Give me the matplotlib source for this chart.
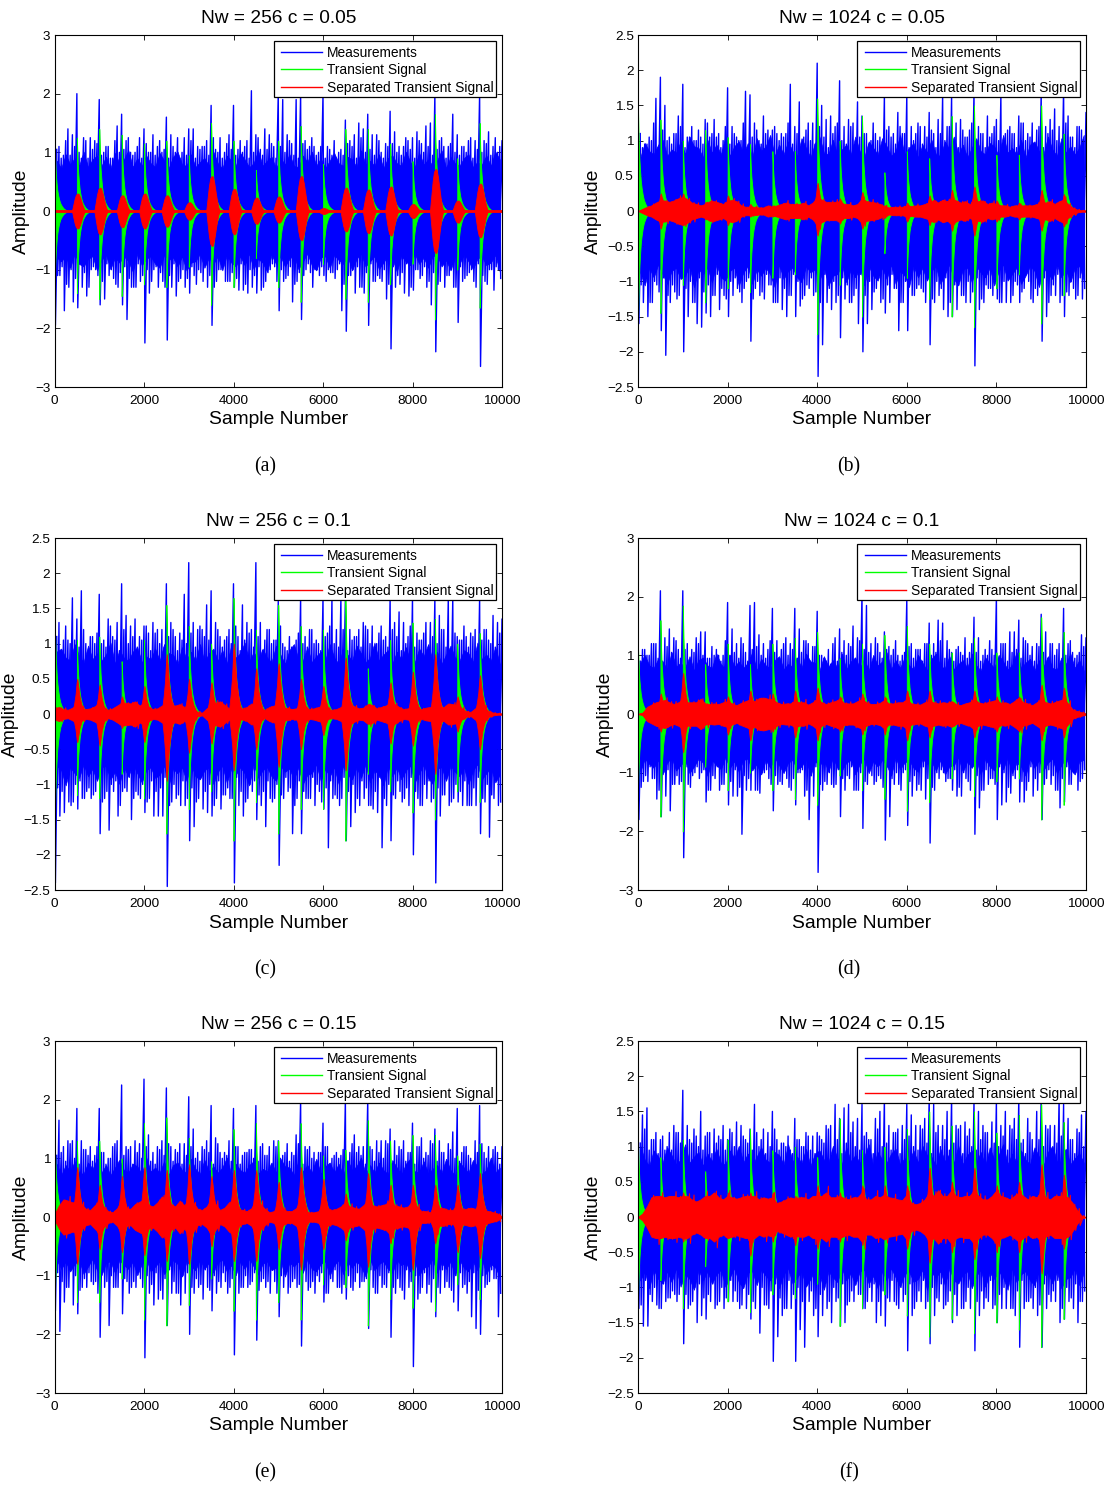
#!/usr/bin/python3
import matplotlib
matplotlib.use('Agg')
import matplotlib.pyplot as plt
from matplotlib.patches import Rectangle
import numpy as np

plt.rcParams['font.family'] = ['Liberation Sans', 'DejaVu Sans']

W, H = 1111, 1486

titles = ['Nw = 256 c = 0.05', 'Nw = 1024 c = 0.05', 'Nw = 256 c = 0.1',
          'Nw = 1024 c = 0.1', 'Nw = 256 c = 0.15', 'Nw = 1024 c = 0.15']
captions = ['(a)', '(b)', '(c)', '(d)', '(e)', '(f)']
legend_labels = ['Measurements', 'Transient Signal', 'Separated Transient Signal']
y_limits = [3, 2.5, 2.5, 3, 3, 2.5]
x_ticks = [0, 2000, 4000, 6000, 8000, 10000]

# measurement peaks, one value per 100 samples
a_hi = [2.0, 1.1, .95, 1.4, 1.3, 2.0, .9, 1.2, 1.25, 1.2,
        1.9, 1.0, 1.1, .9, 1.45, 1.65, 1.2, 1.0, 1.0, 1.25,
        1.4, 1.0, 1.3, 1.1, 1.0, 1.6, 1.3, 1.0, .9, 1.25,
        1.4, 1.4, 1.1, 1.1, 1.2, 1.8, 1.05, 1.25, 1.0, 1.3,
        1.8, 1.05, 1.0, 1.2, 2.05, 1.3, 1.05, 1.4, 1.3, 1.1,
        2.0, 1.9, 1.3, 1.15, 1.9, 2.0, 1.2, 1.1, 1.1, 1.0,
        2.0, 1.1, .95, .9, 1.05, 1.55, 1.2, 1.3, 1.5, 1.4,
        1.65, 1.3, 1.3, 1.0, 1.15, 1.7, 1.35, 1.1, 1.1, 1.2,
        1.25, 1.35, 1.15, 1.45, 1.5, 2.0, 1.2, 1.1, 1.1, 1.65,
        1.3, 1.1, 1.0, 1.25, 1.2, 2.0, 1.2, 1.35, 1.1, 1.0, 1.2]
a_lo = [-1.95, -1.1, -1.7, -1.3, -1.55, -1.65, -1.3, -1.45, -1.0, -1.0,
        -1.6, -1.5, -1.1, -1.15, -1.3, -1.6, -1.85, -1.3, -1.3, -1.2,
        -2.25, -1.4, -1.0, -1.3, -1.2, -2.2, -1.3, -1.45, -1.15, -1.3,
        -1.4, -1.1, -1.0, -1.2, -1.3, -1.95, -1.2, -1.0, -1.2, -1.2,
        -1.3, -1.35, -1.35, -1.4, -1.3, -1.4, -1.35, -1.2, -1.0, -.95,
        -1.7, -1.2, -1.1, -1.55, -1.2, -1.85, -1.0, -1.05, -1.0, -1.1,
        -1.1, -1.0, -1.05, -1.0, -1.7, -2.05, -1.1, -1.4, -1.3, -1.4,
        -1.95, -1.2, -1.1, -1.2, -1.5, -2.35, -1.3, -1.25, -1.4, -1.45,
        -1.35, -1.0, -1.1, -1.3, -1.6, -2.4, -1.2, -1.3, -1.1, -1.3,
        -1.9, -1.2, -1.1, -1.0, -1.3, -2.65, -1.2, -1.0, -1.35, -1.0, -1.0]
b_hi = [2.05, .9, .95, 1.0, 1.6, 1.9, 1.5, 1.05, 1.1, 1.35,
        1.8, 1.05, 1.2, 1.0, 1.05, 1.3, 1.05, 1.3, 1.1, 1.0,
        1.75, 1.2, 1.05, 1.0, 1.7, 1.65, 1.25, 1.0, 1.35, 1.15,
        1.15, 1.1, 1.1, 1.1, 1.8, 1.2, 1.55, 1.05, 1.25, 1.25,
        2.1, 1.5, 1.3, 1.35, 1.2, 1.85, 1.2, 1.3, 1.25, 1.55,
        1.35, 1.1, 1.0, 1.1, 1.05, 1.65, 1.2, 1.1, 1.4, 1.1,
        1.65, 1.2, 1.1, 1.2, 1.2, 1.4, 1.1, 1.3, 1.65, 1.2,
        1.65, 1.25, 1.3, 1.05, 1.15, 1.7, 1.2, 1.1, 1.35, 1.1,
        1.3, 1.65, 1.1, 1.2, 1.1, 1.35, 1.25, 1.1, 1.25, 1.15,
        1.7, 1.2, 1.3, 1.45, 1.2, 1.75, 1.35, 1.05, 1.2, 1.15, 1.4]
b_lo = [-1.6, -1.3, -1.5, -1.3, -1.05, -1.7, -2.05, -1.3, -1.15, -1.2,
        -2.0, -1.5, -1.3, -1.6, -1.65, -1.45, -1.5, -1.2, -1.4, -1.2,
        -1.5, -1.2, -1.1, -1.3, -1.0, -1.85, -1.1, -1.2, -1.25, -1.05,
        -1.3, -1.3, -1.4, -1.5, -1.2, -1.5, -1.35, -1.2, -1.1, -1.2,
        -2.35, -1.9, -1.3, -1.4, -1.3, -1.8, -1.25, -1.3, -1.2, -1.6,
        -2.0, -1.6, -1.4, -1.1, -1.3, -1.45, -1.3, -1.1, -1.7, -1.3,
        -1.7, -1.2, -1.1, -1.1, -1.3, -1.9, -1.3, -1.2, -1.4, -1.5,
        -1.5, -1.4, -1.2, -1.3, -1.3, -2.2, -1.4, -1.3, -1.1, -1.2,
        -1.25, -1.3, -1.3, -1.3, -1.0, -1.3, -1.1, -1.0, -1.3, -1.2,
        -1.85, -1.5, -1.2, -1.2, -1.3, -1.5, -1.2, -1.1, -1.2, -1.25, -1.0]
c_hi = [2.25, 1.3, 1.05, 1.05, 1.65, 1.35, 1.75, 1.0, 1.1, 1.0,
        1.7, 1.05, 1.35, 1.1, 1.3, 1.85, 1.4, 1.25, 1.35, 1.1,
        1.25, 1.15, 1.3, 1.2, 1.2, 1.85, 1.3, 1.1, 1.15, 1.7,
        2.15, 1.3, 1.2, 1.2, 1.55, 1.75, 1.3, 1.1, 1.05, 1.2,
        1.85, 1.1, 1.55, 1.3, 1.2, 2.15, 1.3, 1.05, 1.2, 1.05,
        1.6, 1.0, .9, .95, 1.05, 1.65, 1.1, 1.2, 1.0, 1.0,
        1.65, 1.15, 1.65, 1.2, 1.65, 1.65, 1.2, 1.1, 1.2, 1.3,
        1.2, 1.25, 1.0, 1.25, 1.1, 1.65, 1.3, 1.45, 1.3, 1.1,
        1.65, 1.15, 1.05, 1.3, 1.3, 1.65, 1.4, 1.2, 1.65, 1.65,
        1.1, 1.05, 1.1, 1.15, 1.2, 1.65, 1.2, 1.05, 1.4, 1.3, 1.35]
c_lo = [-2.4, -1.45, -1.4, -1.25, -1.25, -1.35, -1.2, -1.1, -1.2, -1.1,
        -1.7, -1.2, -1.65, -1.1, -1.45, -1.1, -1.1, -1.5, -1.1, -1.2,
        -1.4, -1.2, -1.45, -1.45, -1.45, -2.45, -1.25, -1.2, -1.3, -1.3,
        -1.8, -1.6, -1.2, -1.35, -1.4, -1.45, -1.2, -1.35, -1.15, -1.2,
        -2.4, -1.3, -1.45, -1.2, -1.1, -1.5, -1.3, -1.6, -1.2, -1.2,
        -2.15, -1.2, -1.1, -1.7, -1.2, -1.7, -1.2, -1.2, -1.3, -1.1,
        -1.35, -1.9, -1.2, -1.2, -1.2, -1.8, -1.6, -1.4, -1.3, -1.2,
        -1.3, -1.35, -1.4, -1.9, -1.3, -1.8, -1.2, -1.1, -1.2, -1.3,
        -2.0, -1.2, -1.3, -1.2, -1.25, -2.4, -1.45, -1.15, -1.3, -1.2,
        -1.25, -1.3, -1.3, -1.3, -1.3, -1.7, -1.25, -1.75, -1.2, -1.3, -1.55]
d_hi = [2.25, 1.1, 1.0, 1.2, 1.2, 2.1, 1.3, 1.45, 1.3, 1.1,
        2.1, 1.2, 1.1, 1.3, 1.4, 1.4, .95, 1.0, 1.0, 1.0,
        1.9, 1.45, 1.2, 1.3, 1.05, 1.85, 1.9, 1.35, 1.2, 1.1,
        1.8, 1.25, 1.1, 1.3, 1.2, 1.8, 1.45, 1.25, 1.2, 1.15,
        1.75, 1.0, .9, .85, 1.3, 1.45, 1.25, 1.2, 1.5, 1.3,
        2.05, 1.85, 1.2, 1.3, 1.05, 1.4, 1.15, 1.1, 1.0, 1.0,
        1.95, 1.2, 1.1, 1.1, 1.2, 1.55, 1.2, 1.6, 1.55, 1.25,
        1.05, 1.1, 1.05, 1.3, 1.05, 1.65, 1.3, 1.0, 1.0, 1.1,
        2.0, 1.2, 1.2, 1.4, 1.4, 1.6, 1.3, 1.2, 1.15, 1.2,
        1.7, 1.4, 1.2, 1.0, 1.2, 1.8, 1.2, 1.05, 1.0, 1.35, 1.3]
d_lo = [-1.8, -1.15, -1.15, -1.1, -1.45, -1.75, -1.4, -1.65, -1.2, -1.2,
        -2.45, -1.2, -1.05, -.9, -1.0, -1.5, -1.3, -1.1, -1.3, -1.2,
        -1.55, -1.4, -1.4, -2.05, -1.3, -1.3, -1.3, -1.35, -1.0, -1.1,
        -1.65, -1.2, -1.2, -1.1, -1.3, -1.55, -1.0, -1.4, -1.8, -1.4,
        -2.7, -1.3, -1.2, -1.2, -1.2, -1.75, -1.3, -1.1, -1.3, -1.3,
        -1.95, -1.2, -1.05, -1.15, -1.1, -2.15, -1.75, -1.2, -1.2, -1.0,
        -1.9, -1.4, -1.3, -1.3, -1.45, -2.2, -1.3, -1.1, -1.0, -1.1,
        -1.3, -1.4, -1.4, -1.1, -1.3, -2.05, -1.6, -1.3, -1.2, -1.1,
        -1.8, -1.55, -1.5, -1.35, -1.1, -1.5, -1.5, -1.15, -1.4, -1.3,
        -1.8, -1.1, -1.2, -1.3, -1.6, -1.5, -1.2, -1.0, -1.3, -1.1, -1.1]
e_hi = [1.5, 1.65, 1.2, 1.3, 1.3, 1.85, 1.3, 1.15, 1.2, 1.05,
        1.85, 1.1, 1.0, 1.2, 1.3, 2.25, 1.2, 1.2, 1.3, 1.25,
        2.35, 1.4, 1.1, 1.2, 1.3, 2.2, 1.2, 1.15, 1.25, 1.25,
        2.05, 1.5, 1.1, 1.2, 1.3, 1.9, 1.35, 1.1, 1.1, 1.3,
        1.85, 1.2, 1.05, 1.1, 1.15, 1.9, 1.2, 1.05, 1.2, 1.3,
        1.3, 1.05, 1.25, 1.1, 1.4, 2.0, 1.2, 1.2, 1.1, 1.1,
        1.6, 1.2, 1.0, 1.1, 1.05, 2.0, 1.1, 1.4, 1.2, 1.2,
        2.0, 1.15, 1.3, 1.3, 1.3, 1.5, 1.3, 1.2, 1.3, 1.1,
        1.6, 1.2, 1.35, 1.1, 1.3, 1.5, 1.3, 1.1, 1.25, 1.45,
        1.85, 1.1, 1.2, 1.0, 1.3, 1.9, 1.1, 1.2, 1.15, 1.1, 1.2]
e_lo = [-1.6, -1.95, -1.45, -1.2, -1.5, -1.65, -1.2, -1.2, -1.1, -1.1,
        -2.05, -1.2, -1.85, -1.2, -1.2, -1.65, -1.1, -1.2, -1.2, -1.05,
        -2.4, -1.3, -1.5, -1.4, -1.4, -1.85, -1.3, -1.3, -1.5, -1.3,
        -2.0, -1.3, -1.2, -1.4, -1.2, -1.6, -1.3, -1.2, -1.1, -1.2,
        -2.35, -1.3, -1.2, -1.2, -1.1, -2.1, -1.1, -1.2, -1.3, -1.1,
        -1.7, -1.2, -1.3, -1.1, -1.2, -2.2, -1.1, -1.2, -1.3, -1.1,
        -1.45, -1.3, -1.1, -1.2, -1.3, -1.4, -1.2, -1.1, -1.2, -1.1,
        -1.9, -1.2, -1.3, -1.2, -1.2, -2.05, -1.3, -1.2, -1.4, -1.2,
        -2.55, -1.4, -1.2, -1.3, -1.45, -1.7, -1.3, -1.2, -1.2, -1.45,
        -1.6, -1.2, -1.3, -1.7, -1.9, -2.0, -1.2, -1.1, -1.05, -1.7, -1.1]
f_hi = [1.6, 1.45, 1.55, 1.1, 1.2, 1.1, .95, 1.2, 1.3, 1.2,
        1.8, 1.3, 1.05, 1.15, 1.5, 1.15, 1.2, 1.25, 1.15, 1.3,
        1.1, 1.2, 1.35, 1.3, 1.1, 1.25, 1.6, 1.0, 1.25, 1.2,
        1.5, 1.1, 1.05, 1.0, .95, 1.4, 1.1, 1.0, 1.15, 1.15,
        1.2, 1.1, 1.3, 1.3, 1.6, 1.4, 1.55, 1.6, 1.35, 1.4,
        1.6, 1.2, 1.1, 1.4, 1.5, 1.7, 1.3, 1.2, 1.25, 1.3,
        1.6, 1.45, 1.3, 1.3, 1.4, 1.7, 1.6, 1.3, 1.3, 1.5,
        1.7, 1.3, 1.3, 1.35, 1.25, 1.65, 1.5, 1.3, 1.2, 1.35,
        1.65, 1.3, 1.5, 1.3, 1.4, 1.7, 1.1, 1.4, 1.1, 1.5,
        1.75, 1.3, 1.3, 1.3, 1.7, 1.6, 1.4, 1.1, 1.25, 1.45, 1.5]
f_lo = [-1.3, -1.55, -1.55, -1.2, -1.25, -1.3, -1.2, -1.15, -1.1, -1.1,
        -1.8, -1.3, -1.2, -1.5, -1.4, -1.45, -1.2, -1.3, -1.2, -1.3,
        -1.2, -1.2, -1.2, -1.25, -1.3, -1.45, -1.3, -1.65, -1.25, -1.3,
        -2.05, -1.7, -1.4, -1.3, -1.3, -2.05, -1.6, -1.85, -1.2, -1.4,
        -1.7, -1.4, -1.3, -1.5, -1.2, -1.55, -1.5, -1.2, -1.2, -1.1,
        -1.3, -1.2, -1.2, -1.5, -1.4, -1.55, -1.2, -1.2, -1.3, -1.2,
        -1.9, -1.4, -1.2, -1.2, -1.3, -1.8, -1.4, -1.2, -1.3, -1.2,
        -1.5, -1.4, -1.3, -1.2, -1.3, -1.9, -1.4, -1.3, -1.2, -1.3,
        -1.5, -1.3, -1.3, -1.3, -1.4, -1.85, -1.3, -1.2, -1.3, -1.4,
        -1.85, -1.3, -1.2, -1.2, -1.5, -1.45, -1.2, -1.3, -1.5, -1.2, -1.0]

# lesser peaks between the main ones, typical levels read from the band edge
second_up = [1.05, .9, 1.2, .95, 1.1, 1.0, 1.25, .9, 1.05, 1.15,
             .95, 1.1, .9, 1.2, 1.0, 1.05, 1.25, .95, 1.1, .9,
             1.15, 1.0, .95, 1.2, 1.05, .9, 1.1, 1.25, 1.0, .95,
             1.2, .9, 1.05, 1.1, .95, 1.25, 1.0, .9, 1.15, 1.05,
             .95, 1.2, 1.1, .9, 1.0, 1.25, .95, 1.05, 1.15, .9,
             1.1, 1.0, 1.2, .95, .9, 1.15, 1.05, 1.25, .95, 1.1,
             .9, 1.05, 1.2, 1.0, .95, 1.15, 1.1, .9, 1.25, 1.0,
             1.05, .95, 1.2, .9, 1.1, 1.15, 1.0, .95, 1.25, 1.05,
             .9, 1.2, 1.0, 1.1, .95, 1.05, 1.25, .9, 1.15, 1.0,
             .95, 1.1, 1.2, .9, 1.05, 1.0, 1.15, .95, 1.25, 1.1]
second_dn = [1.1, .95, 1.25, 1.0, 1.15, .9, 1.05, 1.3, .95, 1.1,
             1.2, .9, 1.0, 1.25, 1.05, .95, 1.15, 1.3, .9, 1.1,
             1.0, 1.2, .95, 1.05, 1.3, 1.1, .9, 1.2, 1.0, 1.15,
             .95, 1.25, 1.05, .9, 1.1, 1.3, 1.0, .95, 1.2, 1.05,
             1.15, .9, 1.25, 1.0, 1.1, .95, 1.3, 1.05, .9, 1.2,
             1.0, 1.15, .95, 1.25, 1.05, 1.1, .9, 1.3, 1.0, .95,
             1.2, 1.05, 1.15, .9, 1.25, 1.1, 1.0, .95, 1.3, 1.05,
             .9, 1.2, 1.15, 1.0, 1.25, .95, 1.1, 1.05, .9, 1.3,
             1.0, 1.15, .95, 1.2, 1.05, 1.25, .9, 1.1, 1.0, 1.3,
             .95, 1.15, 1.05, 1.2, .9, 1.1, 1.25, 1.0, .95, 1.15]
# edge of the solid part of the band
core_up = [.78, .66, .88, .72, .82, .7, .92, .68, .8, .86,
           .7, .84, .66, .9, .74, .8, .94, .68, .82, .7,
           .86, .74, .68, .9, .78, .66, .84, .92, .72, .7,
           .88, .68, .76, .82, .7, .92, .74, .66, .86, .78,
           .7, .9, .8, .68, .74, .94, .7, .78, .84, .66,
           .82, .72, .88, .7, .68, .86, .76, .92, .7, .82,
           .66, .78, .9, .74, .7, .84, .8, .68, .94, .72,
           .78, .7, .88, .66, .82, .86, .74, .7, .92, .76,
           .68, .9, .72, .8, .7, .78, .94, .66, .84, .74,
           .7, .82, .88, .68, .76, .72, .86, .7, .92, .8]
core_scale = [1.1, 1.15, 1.08, 1.12, 1.08, 1.1]

# one transient every 500 samples
impulse_x = [0, 500, 1000, 1500, 2000, 2500, 3000, 3500, 4000, 4500,
             5000, 5500, 6000, 6500, 7000, 7500, 8000, 8500, 9000, 9500]
green_up = [
    [1.2, 1.25, 1.4, 1.3, 1.15, 1.2, .95, 1.5, 1.2, .7, 1.2, 1.45, .8, 1.4, 1.4, 1.15, .85, 1.65, .9, 1.5],
    [1.45, 1.3, 1.0, 1.15, 1.05, .95, .85, .85, 1.6, 1.0, 1.35, .55, .85, .75, 1.35, 1.5, .8, .8, 1.5, 1.1],
    [1.5, 1.05, 1.1, .75, 1.05, 1.55, 1.25, 1.0, 1.65, 1.2, 1.55, 1.25, 1.2, 1.65, .65, 1.05, 1.3, 1.35, 1.0, 1.15],
    [1.15, 1.6, 1.85, .85, 1.2, .85, 1.2, 1.3, 1.4, .95, 1.2, 1.35, 1.5, 1.2, 1.05, 1.3, 1.05, 1.05, 1.65, 1.4],
    [1.45, 1.3, 1.3, 1.0, 1.6, 1.7, 1.35, .95, 1.5, 1.6, 1.3, 1.6, 1.05, 1.15, 1.65, 1.3, 1.4, 1.4, 1.05, 1.25],
    [1.05, .85, 1.1, .65, 1.1, 1.25, .95, 1.0, .85, 1.4, .95, 1.0, 1.25, 1.5, 1.3, 1.5, 1.2, 1.45, 1.6, 1.35]]
green_dn = [
    [1.3, 1.4, 1.5, 1.45, 1.25, 1.3, .95, 1.6, 1.3, .8, 1.3, 1.55, .9, 1.5, 1.55, 1.25, .9, 1.85, 1.0, 1.65],
    [1.55, 1.45, 1.05, 1.3, 1.1, 1.15, .95, .9, 1.75, 1.05, 1.5, .6, .95, 1.25, 1.5, 1.65, 1.1, .9, 1.6, 1.2],
    [1.7, 1.15, 1.2, .85, 1.2, 1.7, 1.35, 1.1, 1.8, 1.25, 1.7, 1.35, 1.35, 1.8, .85, 1.1, 1.4, 1.5, 1.1, 1.25],
    [1.25, 1.75, 2.0, .9, 1.3, 1.0, 1.3, 1.45, 1.55, 1.05, 1.3, 1.45, 1.65, 1.5, 1.1, 1.4, 1.15, 1.1, 1.8, 1.55],
    [1.6, 1.45, 1.45, 1.05, 1.75, 1.85, 1.5, 1.05, 1.6, 1.75, 1.45, 1.75, 1.15, 1.2, 1.85, 1.4, 1.55, 1.6, 1.15, 1.4],
    [1.15, .9, 1.3, .7, 1.2, 1.35, 1.1, 1.15, .95, 1.55, 1.3, 1.1, 1.4, 1.7, 1.45, 1.65, 1.5, 1.6, 1.85, 1.45]]
green_offsets = [0, 8, 16, 30, 46, 62, 80, 105, 130, 165, 200, 240, 290]
green_shape = [1.0, .85, .7, .52, .4, .3, .23, .16, .11, .07, .04, .02, 0]

red_up = [
    [0, .3, .4, .27, .3, .27, .15, .6, .38, .23, .25, .6, .05, .4, .37, .42, .12, .72, .18, .47],
    [0, .25, .25, .13, .22, .1, .08, .1, .4, .18, .27, .08, .12, .22, .3, .35, .15, .12, .3, .24],
    [0, .5, .42, .25, .4, .85, .5, .45, 1.0, .65, .72, .5, .4, .8, .1, .45, .6, .85, .25, .55],
    [0, .35, .7, .15, .3, .4, .35, .4, .45, .3, .35, .3, .4, .4, .2, .4, .3, .3, .5, .45],
    [.1, .85, .55, .7, .85, .8, .9, .7, .8, .8, .6, .85, .65, .4, .75, .55, .55, .55, .55, .75],
    [0, .3, .35, .25, .35, .35, .35, .3, .45, .35, .45, .45, .45, .7, .5, .7, .45, .5, .75, .6]]
red_dn = [
    [0, .3, .4, .28, .3, .27, .15, .6, .4, .22, .2, .5, .05, .35, .38, .42, .12, .72, .2, .45],
    [0, .25, .2, .12, .2, .08, .08, .1, .35, .18, .25, .1, .15, .2, .28, .35, .15, .12, .28, .22],
    [0, .4, .45, .2, .4, .95, .55, .42, .8, .5, .75, .5, .3, .8, .1, .42, .45, .85, .25, .5],
    [0, .3, .65, .15, .35, .45, .3, .4, .45, .3, .35, .35, .45, .4, .2, .4, .3, .3, .45, .4],
    [.1, .8, .55, .6, .65, .75, .8, .5, .75, .75, .55, .9, .55, .4, .85, .45, .9, .45, .6, .7],
    [0, .3, .35, .25, .3, .55, .35, .4, .45, .35, .4, .3, .45, .65, .5, .6, .5, .5, .8, .45]]
# round bumps in panel (a), sharp ones with a skirt in the others
red_offsets = [[-110, -80, -50, -20, 20, 40, 70, 100, 130, 160, 190],
               [-100, -60, -30, -5, 10, 30, 60, 100, 150, 200, 230]]
red_shape = [[0, .35, .7, .93, 1.0, .97, .8, .55, .3, .12, 0],
             [.05, .3, .55, .9, 1.0, .8, .5, .28, .12, .03, 0]]
red_kind = [0, 1, 1, 1, 1, 1]

# background level of the separated signal, one value per 100 samples
red_base = [
    [.015, .015, .015, .015, .015, .015, .015, .015, .015, .015, .015],
    [0, .03, .06, .08, .12, .15, .15, .13, .15, .18,
     .2, .17, .12, .1, .08, .1, .14, .14, .12, .1,
     .14, .16, .14, .08, .06, .06, .06, .05, .05, .08,
     .06, .08, .1, .12, .1, .1, .1, .12, .08, .12,
     .2, .16, .13, .13, .13, .14, .1, .1, .08, .1,
     .18, .14, .13, .12, .1, .07, .05, .06, .06, .06,
     .08, .07, .08, .08, .1, .12, .16, .12, .16, .14,
     .18, .15, .12, .14, .1, .12, .14, .15, .1, .12,
     .1, .08, .08, .06, .08, .08, .08, .08, .08, .1,
     .12, .12, .14, .1, .14, .16, .1, .05, .02, .01, .01],
    [.08, .1, .07, .06, .09, .13, .09, .07, .08, .11,
     .14, .09, .06, .08, .12, .16, .16, .15, .18, .12,
     .15, .1, .07, .08, .12, .15, .13, .12, .14, .1,
     .13, .07, .03, .02, .08, .12, .16, .18, .13, .08,
     .09, .07, .08, .1, .15, .13, .08, .06, .1, .12,
     .12, .08, .09, .07, .08, .12, .1, .07, .08, .1,
     .12, .07, .06, .07, .1, .15, .14, .11, .08, .09,
     .14, .13, .08, .1, .12, .15, .14, .1, .07, .08,
     .12, .09, .07, .09, .1, .12, .1, .1, .15, .14,
     .13, .08, .04, .03, .08, .14, .1, .04, .02, .01, .01],
    [0, .02, .12, .16, .2, .22, .24, .2, .17, .2,
     .25, .2, .2, .2, .26, .18, .17, .18, .17, .2,
     .22, .18, .15, .19, .22, .25, .22, .27, .28, .26,
     .25, .2, .17, .18, .18, .22, .2, .2, .16, .2,
     .26, .2, .17, .2, .22, .26, .19, .18, .18, .22,
     .25, .2, .17, .17, .19, .24, .18, .18, .2, .2,
     .25, .18, .17, .16, .2, .22, .2, .18, .2, .19,
     .22, .17, .15, .18, .2, .26, .2, .18, .2, .22,
     .24, .19, .2, .17, .22, .28, .2, .18, .15, .2,
     .25, .2, .18, .2, .23, .25, .18, .08, .05, .03, .01],
    [.05, .2, .3, .28, .25, .26, .22, .14, .12, .2,
     .28, .18, .1, .08, .15, .3, .15, .14, .22, .26,
     .3, .2, .18, .25, .35, .3, .22, .18, .28, .2,
     .3, .25, .14, .12, .18, .3, .22, .12, .16, .25,
     .3, .14, .12, .1, .15, .3, .22, .14, .08, .1,
     .2, .14, .1, .1, .15, .3, .1, .08, .08, .1,
     .25, .15, .12, .14, .18, .25, .18, .16, .14, .2,
     .28, .2, .18, .2, .22, .3, .2, .18, .16, .18,
     .28, .18, .1, .1, .08, .25, .15, .15, .12, .12,
     .22, .12, .14, .16, .14, .22, .12, .1, .08, .06, .01],
    [0, .05, .15, .28, .3, .3, .28, .3, .3, .28,
     .3, .3, .25, .22, .25, .3, .3, .35, .28, .25,
     .3, .28, .26, .28, .3, .3, .3, .25, .28, .26,
     .28, .2, .22, .25, .28, .26, .28, .28, .25, .3,
     .3, .3, .35, .28, .28, .3, .27, .25, .28, .28,
     .35, .25, .25, .3, .28, .32, .28, .27, .25, .24,
     .32, .2, .18, .2, .25, .35, .3, .38, .3, .3,
     .38, .3, .28, .3, .3, .38, .3, .25, .25, .3,
     .38, .3, .28, .25, .3, .35, .3, .25, .3, .28,
     .36, .28, .25, .3, .3, .3, .28, .2, .1, .02, .0]]

# axes boxes in pixels: left, right, top, bottom
boxes = [(54.5, 502, 35, 387), (638, 1086, 35, 387),
         (54.5, 502, 538, 890), (638, 1086, 538, 890),
         (54.5, 502, 1041, 1393), (638, 1086, 1041, 1393)]
caption_x = [265, 849, 265, 849, 265, 849]
caption_y = [467, 467, 970, 970, 1473, 1473]

hi_all = [a_hi, b_hi, c_hi, d_hi, e_hi, f_hi]
lo_all = [a_lo, b_lo, c_lo, d_lo, e_lo, f_lo]

BLUE, GREEN, RED = '#0000ff', '#00ff00', '#ff0000'


def draw_panel(ax, i):
    hi = np.array(hi_all[i])
    lo = np.array(lo_all[i])
    x = np.arange(len(hi)) * 100.0

    # panels take the shared band levels from different starting points
    up2 = np.roll(second_up, i * 17)
    dn2 = np.roll(second_dn, i * 23)
    core = np.roll(core_up, i * 13) * core_scale[i]
    x2 = x[:-1] + 50

    ax.fill_between(x2, core, -np.roll(core, 31), color=BLUE, lw=0.5, zorder=1)
    zx = np.column_stack([x, x + 20]).ravel()
    zy = np.column_stack([hi, lo]).ravel()
    ax.plot(zx, zy, color=BLUE, lw=1.0, label=legend_labels[0], zorder=2)
    zx2 = np.column_stack([x2, x2 + 20]).ravel()
    zy2 = np.column_stack([up2, -dn2]).ravel()
    ax.plot(zx2, zy2, color=BLUE, lw=1.0, zorder=2)

    gx = np.array(green_offsets, dtype=float)
    gs = np.array(green_shape)
    for k, x0 in enumerate(impulse_x):
        ax.fill_between(x0 + gx, gs * green_up[i][k], -gs * green_dn[i][k], color=GREEN, lw=0.6, zorder=3)
    ax.plot([], [], color=GREEN, lw=1.0, label=legend_labels[1])

    base = np.array(red_base[i])
    bx = np.arange(len(base)) * 10000.0 / (len(base) - 1)
    ax.fill_between(bx, base, -base, color=RED, lw=0.6, zorder=4)
    if len(base) == len(x):
        # rough edge of the red band
        ry = np.column_stack([base[:-1] * up2, -base[:-1] * dn2]).ravel()
        ax.plot(zx2, ry, color=RED, lw=0.8, zorder=4)
    rx = np.array(red_offsets[red_kind[i]], dtype=float)
    rs = np.array(red_shape[red_kind[i]])
    for k, x0 in enumerate(impulse_x):
        if red_up[i][k] > 0:
            ax.fill_between(x0 + rx, rs * red_up[i][k], -rs * red_dn[i][k], color=RED, lw=0.6, zorder=4)
    ax.plot([], [], color=RED, lw=1.0, label=legend_labels[2])

    ax.set_xlim(0, 10000)
    ax.set_ylim(-y_limits[i], y_limits[i])
    ax.set_xticks(x_ticks)
    step = 1 if y_limits[i] == 3 else 0.5
    ticks = np.arange(-y_limits[i], y_limits[i] + step / 2, step)
    ax.set_yticks(ticks)
    ax.set_yticklabels([('%g' % t).replace('-', '\u2212') for t in ticks])
    ax.tick_params(direction='in', top=True, right=True, length=3.5, width=0.6,
                   labelsize=9.7, pad=3)
    ax.tick_params(axis='x', pad=6)
    ax.set_title(titles[i], fontsize=13.8, pad=8.5)
    ax.set_xlabel('Sample Number', fontsize=13.9, labelpad=3)
    ax.set_ylabel('Amplitude', fontsize=13.9, labelpad=3.5)
    for s in ax.spines.values():
        s.set_linewidth(0.8)
        s.set_zorder(6)

    # the box is wider on the left than a legend frame would be
    ax.add_patch(Rectangle((0.4894, 0.824), 0.4972, 0.159, transform=ax.transAxes,
                           facecolor='white', edgecolor='black', lw=0.9, zorder=9))
    leg = ax.legend(loc='upper right', bbox_to_anchor=(0.982, 0.97), fontsize=9.9,
                    frameon=False, borderaxespad=0, borderpad=0,
                    handlelength=3.0, handletextpad=0.37, labelspacing=0.26)
    leg.set_zorder(10)


fig = plt.figure(figsize=(W / 100, H / 100), dpi=100)
for i in range(6):
    l, r, t, b = boxes[i]
    ax = fig.add_axes([l / W, 1 - b / H, (r - l) / W, (b - t) / H])
    draw_panel(ax, i)
    fig.text(caption_x[i] / W, 1 - caption_y[i] / H, captions[i], ha='center', va='center',
             fontsize=14.2, family=['Liberation Serif', 'DejaVu Serif'])

plt.savefig('out.png', dpi=100)
plt.close()
